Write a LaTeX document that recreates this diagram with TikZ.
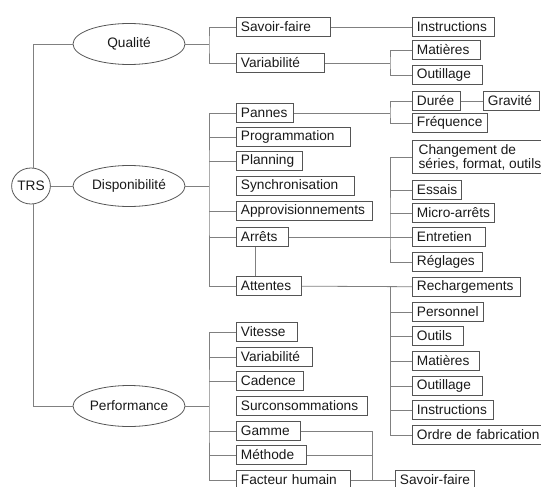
\documentclass[tikz,border=0pt]{standalone}
\usepackage{fontspec}
\setmainfont{Liberation Sans}
\usetikzlibrary{shapes.geometric}
\definecolor{linec}{RGB}{128,128,128}
\definecolor{boxc}{RGB}{85,85,85}
\definecolor{txtc}{RGB}{25,25,25}
\begin{document}
\begin{tikzpicture}[x=1pt,y=-1pt,
  every node/.style={font=\fontsize{13.7}{15}\selectfont, text=txtc},
  bx/.style={draw=boxc, line width=0.8pt, anchor=west, inner xsep=4.5pt, inner ysep=0pt, minimum height=19pt},
  tw/.style={text width=#1pt, align=left},
  ell/.style={draw=boxc, line width=0.8pt, ellipse, minimum width=112pt, minimum height=41pt, inner sep=0pt},
  ln/.style={draw=linec, line width=0.8pt}]
\useasboundingbox (0,0) rectangle (541,487);
% root and level 1
\node[ell, minimum width=38pt, minimum height=36pt] (trs) at (31,186) {TRS};
\node[ell] (q) at (129,44) {Qualité};
\node[ell] (d) at (129,186) {Disponibilité};
\node[ell] (p) at (129,406) {Performance};
% Qualité
\node[bx, tw=85] (sf1) at (236,27) {Savoir-faire};
\node[bx, tw=79] (var1) at (236,63) {Variabilité};
\node[bx, tw=73] (ins1) at (412,27) {Instructions};
\node[bx, tw=59] (mat1) at (412,50) {Matières};
\node[bx, tw=61] (out1) at (412,75) {Outillage};
% Disponibilité
\node[bx, tw=48] (pan) at (236,113) {Pannes};
\node[bx, tw=105] (prog) at (236,137) {Programmation};
\node[bx, tw=57] (plan) at (236,161) {Planning};
\node[bx, tw=109] (sync) at (236,186) {Synchronisation};
\node[bx, tw=127] (appro) at (236,211) {Approvisionnements};
\node[bx, tw=43] (arr) at (236,237) {Arrêts};
\node[bx, tw=56] (att) at (236,286) {Attentes};
\node[bx, tw=39] (dur) at (412,101) {Durée};
\node[bx, tw=47] (grav) at (483,101) {Gravité};
\node[bx] (freq) at (412,123) {Fréquence};
\node[bx, align=left, minimum height=33pt, minimum width=135pt, font=\fontsize{13.7}{14}\selectfont] (chg) at (412,157) {Changement de\\séries, format, outils};
\node[bx] (ess) at (412,190) {Essais};
\node[bx] (mic) at (412,213) {Micro-arrêts};
\node[bx, tw=64] (ent) at (412,237) {Entretien};
\node[bx, tw=61] (reg) at (412,262) {Réglages};
\node[bx, tw=99] (rech) at (412,287) {Rechargements};
\node[bx, tw=62] (pers) at (412,312) {Personnel};
\node[bx, tw=42] (outs) at (412,336) {Outils};
\node[bx, tw=58] (mat2) at (412,361) {Matières};
\node[bx, tw=61] (out2) at (412,386) {Outillage};
\node[bx, tw=72] (ins2) at (412,410) {Instructions};
\node[bx, tw=126] (ord) at (412,435) {Ordre de fabrication};
% Performance
\node[bx, tw=52] (vit) at (236,332) {Vitesse};
\node[bx, tw=67] (var2) at (236,357) {Variabilité};
\node[bx, tw=58] (cad) at (236,381) {Cadence};
\node[bx, tw=122] (surc) at (236,406) {Surconsommations};
\node[bx, tw=55] (gam) at (236,431) {Gamme};
\node[bx, tw=61] (met) at (236,455) {Méthode};
\node[bx, tw=105] (fh) at (236,480) {Facteur humain};
\node[bx] (sf2) at (395,480) {Savoir-faire};
% bus coordinates
\coordinate (tb0) at (33,44);
\coordinate (tb1) at (33,406);
\coordinate (qb) at (209,44);
\coordinate (vb) at (390,63);
\coordinate (db) at (209,186);
\coordinate (pb) at (390,113);
\coordinate (ab) at (390,237);
\coordinate (axv) at (255,0);
\coordinate (wb) at (390,286);
\coordinate (pfb) at (209,406);
\coordinate (gb) at (372,480);
% connectors: root
\draw[ln] (q.west) -- (tb0) -- (trs.north -| tb0);
\draw[ln] (trs.south -| tb1) -- (tb1) -- (p.west);
\draw[ln] (trs) -- (d);
% Qualité
\draw[ln] (q) -- (qb);
\draw[ln] (sf1.west) -| (qb) |- (var1.west);
\draw[ln] (sf1) -- (ins1);
\draw[ln] (var1) -- (vb);
\draw[ln] (mat1.west) -| (vb) |- (out1.west);
% Disponibilité
\draw[ln] (d) -- (db);
\draw[ln] (pan.west) -| (db) |- (att.west);
\foreach \n in {prog,plan,appro,arr} \draw[ln] (\n.west) -- (\n.west -| db);
\draw[ln] (pan) -- (pb);
\draw[ln] (dur.west) -| (pb) |- (freq.west);
\draw[ln] (dur) -- (grav);
\draw[ln] (arr) -- (ent);
\draw[ln] (chg.west) -| (ab) |- (reg.west);
\foreach \n in {ess,mic} \draw[ln] (\n.west) -- (\n.west -| ab);
\draw[ln] (arr.south -| axv) -- (att.north -| axv);
\draw[ln] (att) -- (rech);
\draw[ln] (wb) |- (ord.west);
\foreach \n in {pers,outs,mat2,out2,ins2} \draw[ln] (\n.west) -- (\n.west -| wb);
% Performance
\draw[ln] (p) -- (pfb);
\draw[ln] (vit.west) -| (pfb) |- (fh.west);
\foreach \n in {var2,cad,gam,met} \draw[ln] (\n.west) -- (\n.west -| pfb);
\draw[ln] (gam.east) -| (gb);
\draw[ln] (met.east) -- (met.east -| gb);
\draw[ln] (fh) -- (sf2);
\end{tikzpicture}
\end{document}
